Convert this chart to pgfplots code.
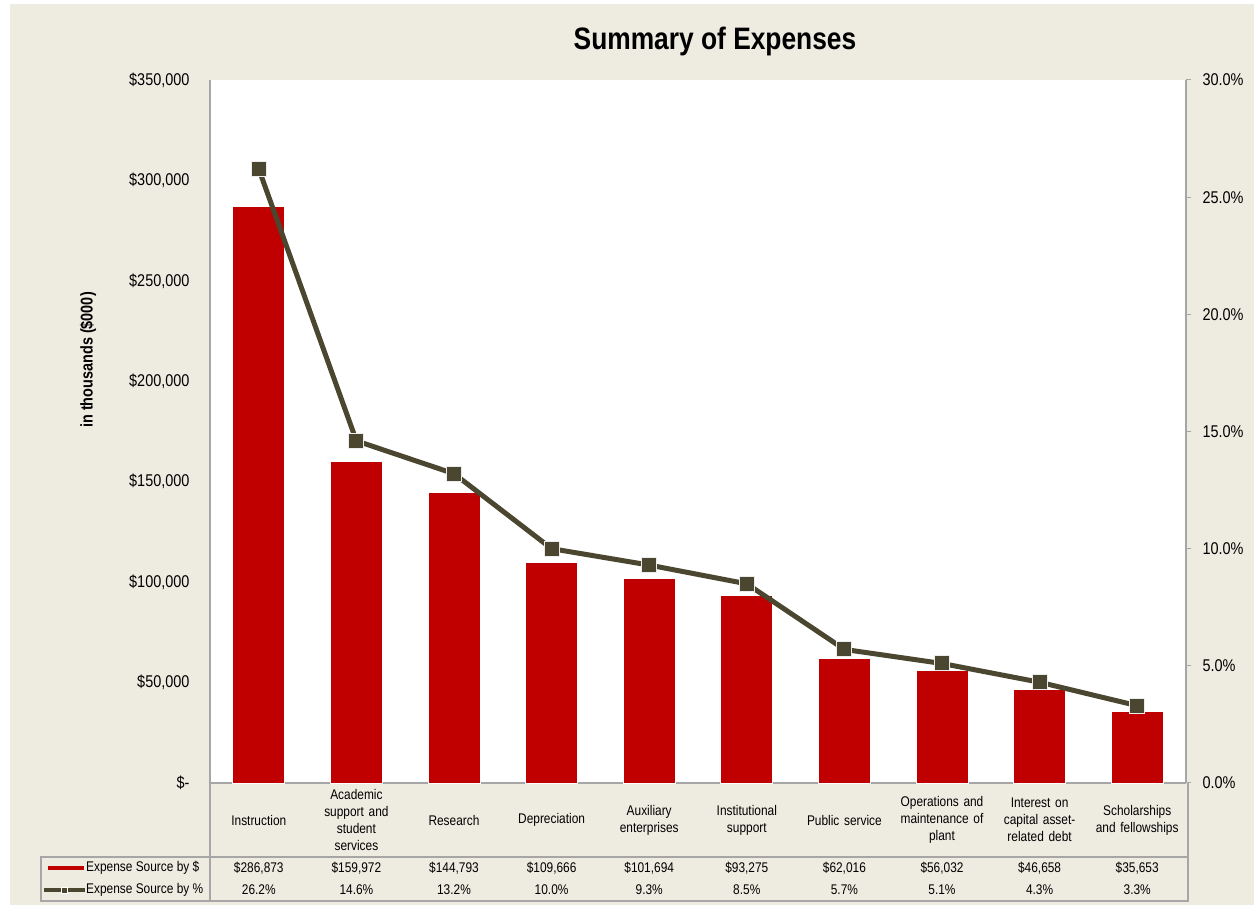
\documentclass[border=0pt]{standalone}
\usepackage{pgfplots}
\pgfplotsset{compat=1.18}
\usepackage{fontspec}
\setmainfont{Liberation Sans}[FakeStretch=0.85]
\definecolor{bg}{HTML}{EEEBE0}
\definecolor{barred}{HTML}{C00000}
\definecolor{olive}{HTML}{4B4630}
\definecolor{gridgray}{HTML}{A6A6A6}
\pgfplotstableread{
x dollars
0 286873
1 159972
2 144793
3 109666
4 101694
5 93275
6 62016
7 56032
8 46658
9 35653
}\dollartable
\pgfplotstableread{
x pct
0 26.2
1 14.6
2 13.2
3 10.0
4 9.3
5 8.5
6 5.7
7 5.1
8 4.3
9 3.3
}\pcttable
\begin{document}
\begin{tikzpicture}[x=1pt,y=1pt]
\fill[white] (0,0) rectangle (1254,905);
\fill[bg] (10,0) rectangle (1254,901);
\begin{axis}[
  at={(210pt,122pt)}, anchor=south west, scale only axis,
  width=976pt, height=703pt,
  xmin=-0.5, xmax=9.5, ymin=0, ymax=350000,
  axis background/.style={fill=white},
  axis x line*=bottom, axis y line*=left,
  axis line style={gridgray, line width=1.5pt},
  xtick={0,...,9},
  xticklabels={Instruction, {Academic\\support and\\student\\services}, Research, Depreciation, {Auxiliary\\enterprises}, {Institutional\\support}, Public service, {Operations and\\maintenance of\\plant}, {Interest on\\capital asset-\\related debt}, {Scholarships\\and fellowships}},
  major tick length=0pt,
  xticklabel style={font=\fontsize{14}{17}\selectfont, align=center, text width=95pt, anchor=center, yshift=-37pt},
  ytick={0,50000,100000,150000,200000,250000,300000,350000},
  yticklabels={\$-, {\$50,000}, {\$100,000}, {\$150,000}, {\$200,000}, {\$250,000}, {\$300,000}, {\$350,000}},
  scaled y ticks=false,
  yticklabel style={font=\fontsize{17}{20}\selectfont, xshift=-17pt},
  ybar, bar width=52pt,
  clip=false,
]
\addplot[fill=barred, draw=white, line width=0.8pt] table[x=x, y=dollars] {\dollartable};
\end{axis}
\begin{axis}[
  at={(210pt,122pt)}, anchor=south west, scale only axis,
  width=976pt, height=703pt,
  xmin=-0.5, xmax=9.5, ymin=0, ymax=30,
  axis y line*=right, axis x line=none,
  axis line style={gridgray, line width=1.5pt},
  ytick={0,5,...,30},
  yticklabel={\pgfmathprintnumber[fixed,fixed zerofill,precision=1,assume math mode=true]{\tick}\%},
  tick align=outside, major tick length=5pt,
  y tick style={gridgray, line width=1pt},
  yticklabel style={font=\fontsize{17}{20}\selectfont, xshift=8pt},
  clip=false,
]
\addplot[olive, line width=5pt, mark=square*, mark size=7.5pt, mark options={fill=olive, draw=white!85!gray, line width=1pt, solid}] table[x=x, y=pct] {\pcttable};
\end{axis}
% data table frame
\draw[gridgray, line width=1.5pt] (41,4) rectangle (1188,48);
\draw[gridgray, line width=1.5pt] (210,4) -- (210,122);
\draw[gridgray, line width=1.5pt] (1188,48) -- (1188,122);
\foreach \v [count=\i from 0] in {{\$286,873},{\$159,972},{\$144,793},{\$109,666},{\$101,694},{\$93,275},{\$62,016},{\$56,032},{\$46,658},{\$35,653}}
  \node[font=\fontsize{14}{17}\selectfont] at ({210+97.6*(\i+0.5)},37) {\v};
\foreach \v [count=\i from 0] in {26.2\%,14.6\%,13.2\%,10.0\%,9.3\%,8.5\%,5.7\%,5.1\%,4.3\%,3.3\%}
  \node[font=\fontsize{14}{17}\selectfont] at ({210+97.6*(\i+0.5)},15) {\v};
\draw[barred, line width=4pt] (48,37) -- (84,37);
\node[anchor=west, inner sep=0pt, font=\fontsize{14}{17}\selectfont] at (86,37) {Expense Source by \$};
\draw[olive, line width=4pt] (44,15) -- (85,15);
\filldraw[fill=olive, draw=white, line width=0.8pt] (61,12) rectangle (67,18);
\node[anchor=west, inner sep=0pt, font=\fontsize{14}{17}\selectfont] at (86,15) {Expense Source by \%};
% title and y label
\node[anchor=base, font=\fontsize{31}{36}\selectfont\bfseries] at (715,855) {Summary of Expenses};
\node[rotate=90, font=\fontsize{17}{20}\selectfont\bfseries] at (88,545) {in thousands (\$000)};
\end{tikzpicture}
\end{document}
